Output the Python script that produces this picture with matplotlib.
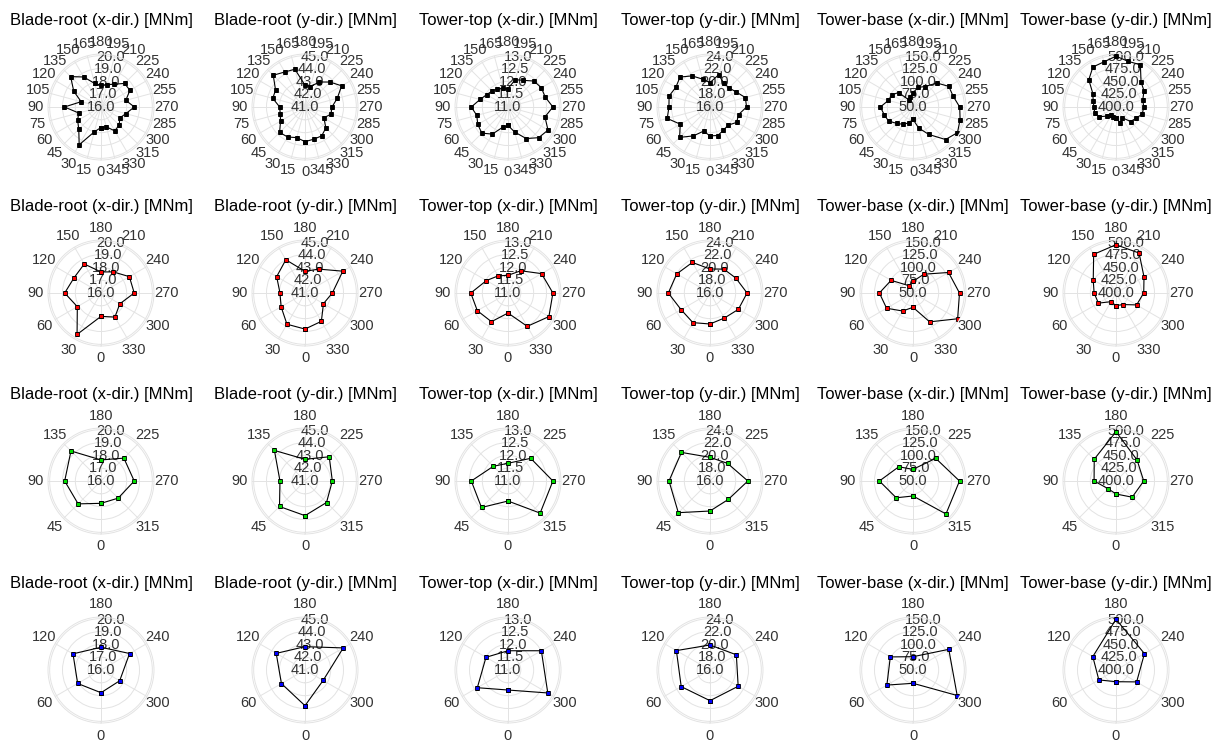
import numpy as np
import matplotlib.pyplot as plt

plt.rcParams['font.family'] = ['Liberation Sans', 'DejaVu Sans']

titles = ["Blade-root (x-dir.) [MNm]", "Blade-root (y-dir.) [MNm]",
          "Tower-top (x-dir.) [MNm]", "Tower-top (y-dir.) [MNm]",
          "Tower-base (x-dir.) [MNm]", "Tower-base (y-dir.) [MNm]"]

# radial ticks of each load channel
r_ticks = [
    [16.0, 17.0, 18.0, 19.0, 20.0],
    [41.0, 42.0, 43.0, 44.0, 45.0],
    [11.0, 11.5, 12.0, 12.5, 13.0],
    [16.0, 18.0, 20.0, 22.0, 24.0],
    [50.0, 75.0, 100.0, 125.0, 150.0],
    [400.0, 425.0, 450.0, 475.0, 500.0],
]

# wind direction bins [deg]
dirs_15 = [0, 15, 30, 45, 60, 75, 90, 105, 120, 135, 150, 165,
           180, 195, 210, 225, 240, 255, 270, 285, 300, 315, 330, 345]
dirs_30 = [0, 30, 60, 90, 120, 150, 180, 210, 240, 270, 300, 330]
dirs_45 = [0, 45, 90, 135, 180, 225, 270, 315]
dirs_60 = [0, 60, 120, 180, 240, 300]

# maximum loads per direction bin, one list per channel
loads_15 = [
    [17.6, 18.0, 19.4, 18.45, 18.1, 17.8, 18.85, 17.6, 18.45, 19.35, 18.7, 17.9,
     17.7, 17.8, 18.05, 18.6, 18.6, 18.0, 18.6, 18.0, 17.7, 18.0, 18.15, 17.6],
    [43.7, 43.47, 43.7, 43.8, 43.2, 43.0, 42.97, 43.6, 43.65, 44.5, 44.15, 44.05,
     42.7, 42.65, 43.25, 43.75, 44.3, 43.6, 43.1, 43.1, 42.7, 43.3, 43.6, 43.6],
    [11.72, 11.82, 12.22, 12.44, 12.36, 12.26, 12.43, 12.13, 11.96, 11.88, 11.82, 11.76,
     11.72, 12.1, 12.2, 12.43, 12.5, 12.5, 12.75, 12.49, 12.8, 12.69, 12.42, 12.01],
    [20.5, 19.9, 21.2, 22.7, 21.35, 22.9, 22.4, 22.6, 22.15, 22.6, 21.6, 20.5,
     19.8, 21.2, 20.3, 20.2, 20.7, 21.7, 21.7, 20.6, 20.8, 20.0, 20.2, 20.6],
    [74.0, 82.0, 89.0, 95.0, 105.0, 108.0, 113.6, 99.7, 97.5, 89.8, 66.0, 70.0,
     78.0, 89.6, 96.0, 116.0, 130.5, 131.0, 141.0, 145.0, 150.0, 139.6, 111.8, 92.3],
    [422.0, 421.0, 419.0, 425.0, 438.0, 443.0, 443.0, 446.0, 452.0, 475.0, 490.0, 491.0,
     499.0, 492.0, 495.0, 469.0, 463.0, 454.0, 454.0, 453.0, 444.5, 440.0, 424.0, 432.0],
]
loads_30 = [
    [17.82, 19.73, 18.13, 18.83, 18.41, 18.61, 17.64, 17.9, 18.55, 18.59, 17.69, 18.17],
    [43.81, 43.81, 43.15, 42.95, 43.55, 43.99, 42.69, 43.15, 44.4, 43.13, 42.66, 43.55],
    [11.78, 12.29, 12.38, 12.45, 11.97, 11.77, 11.69, 12.0, 12.51, 12.75, 12.84, 12.5],
    [20.83, 21.33, 21.2, 22.5, 21.97, 21.5, 19.74, 20.3, 20.65, 21.78, 21.1, 20.5],
    [77.9, 90.5, 109.4, 115.5, 99.3, 66.6, 72.7, 92.3, 129.9, 140.6, 150.4, 114.9],
    [424.7, 419.5, 439.5, 442.7, 451.2, 487.0, 494.0, 489.9, 463.0, 454.0, 446.4, 426.0],
]
loads_45 = [
    [17.74, 18.52, 18.83, 19.31, 17.64, 18.52, 18.59, 17.89],
    [43.7, 43.81, 42.95, 44.37, 42.69, 43.67, 43.13, 43.37],
    [11.78, 12.46, 12.43, 11.81, 11.69, 12.25, 12.75, 12.77],
    [20.68, 22.98, 22.39, 22.3, 19.69, 19.88, 21.9, 20.05],
    [79.2, 96.2, 115.5, 89.2, 72.7, 112.5, 140.6, 140.8],
    [425.3, 421.4, 442.7, 460.0, 496.0, 458.0, 454.0, 444.6],
]
loads_60 = [
    [17.77, 18.1, 18.52, 17.77, 18.57, 17.68],
    [43.78, 43.12, 43.59, 42.82, 44.44, 42.63],
    [11.78, 12.38, 11.99, 11.75, 12.5, 12.79],
    [20.78, 21.18, 22.05, 19.9, 20.74, 21.07],
    [75.9, 108.8, 101.0, 75.9, 130.5, 149.4],
    [422.8, 438.6, 452.2, 498.8, 464.0, 446.4],
]

rows = [(dirs_15, loads_15, 'black'),
        (dirs_30, loads_30, 'red'),
        (dirs_45, loads_45, '#00dd00'),
        (dirs_60, loads_60, 'blue')]

W, H = 1221, 744
fig = plt.figure(figsize=(W / 100, H / 100), dpi=100)

col_cx = [101, 305, 508, 710, 913, 1116]
row_cy = [107, 293, 481, 670]
rad = 53  # axes radius in pixels

grid_col = '#e3e3e3'
text_col = '#333333'

for i, (dirs, loads, mcol) in enumerate(rows):
    for j in range(6):
        cx, cy = col_cx[j], row_cy[i]
        ax = fig.add_axes([(cx - rad) / W, 1 - (cy + rad) / H, 2 * rad / W, 2 * rad / H],
                          projection='polar')
        ax.set_theta_zero_location('S')
        ax.set_theta_direction(-1)

        th = np.deg2rad(dirs)
        vals = loads[j]
        ax.plot(np.append(th, th[0]), np.append(vals, vals[0]), color='black', lw=0.8,
                marker='s', ms=3.5, mfc=mcol, mec='black', mew=0.6, zorder=3)

        ticks = r_ticks[j]
        step = ticks[1] - ticks[0]
        ax.set_ylim(ticks[0], ticks[-1] + 0.13 * step)
        ax.set_yticks(ticks)
        ax.set_yticklabels([])
        for t in ticks:
            ax.text(np.deg2rad(191), t, f"{t:.1f}", ha='center', va='center',
                    fontsize=10.5, color=text_col, zorder=2)

        ax.set_xticks(th)
        ax.set_xticklabels([str(d) for d in dirs], fontsize=10.5, color=text_col)
        ax.tick_params(axis='x', length=0, pad=2)

        ax.grid(True, color=grid_col, lw=0.7)
        ax.spines['polar'].set_color(grid_col)
        ax.spines['polar'].set_linewidth(0.7)
        ax.set_facecolor('white')

        ax.set_title(titles[j], fontsize=12, y=1.32, va='center', pad=0)

fig.savefig('out.png', dpi=100)
